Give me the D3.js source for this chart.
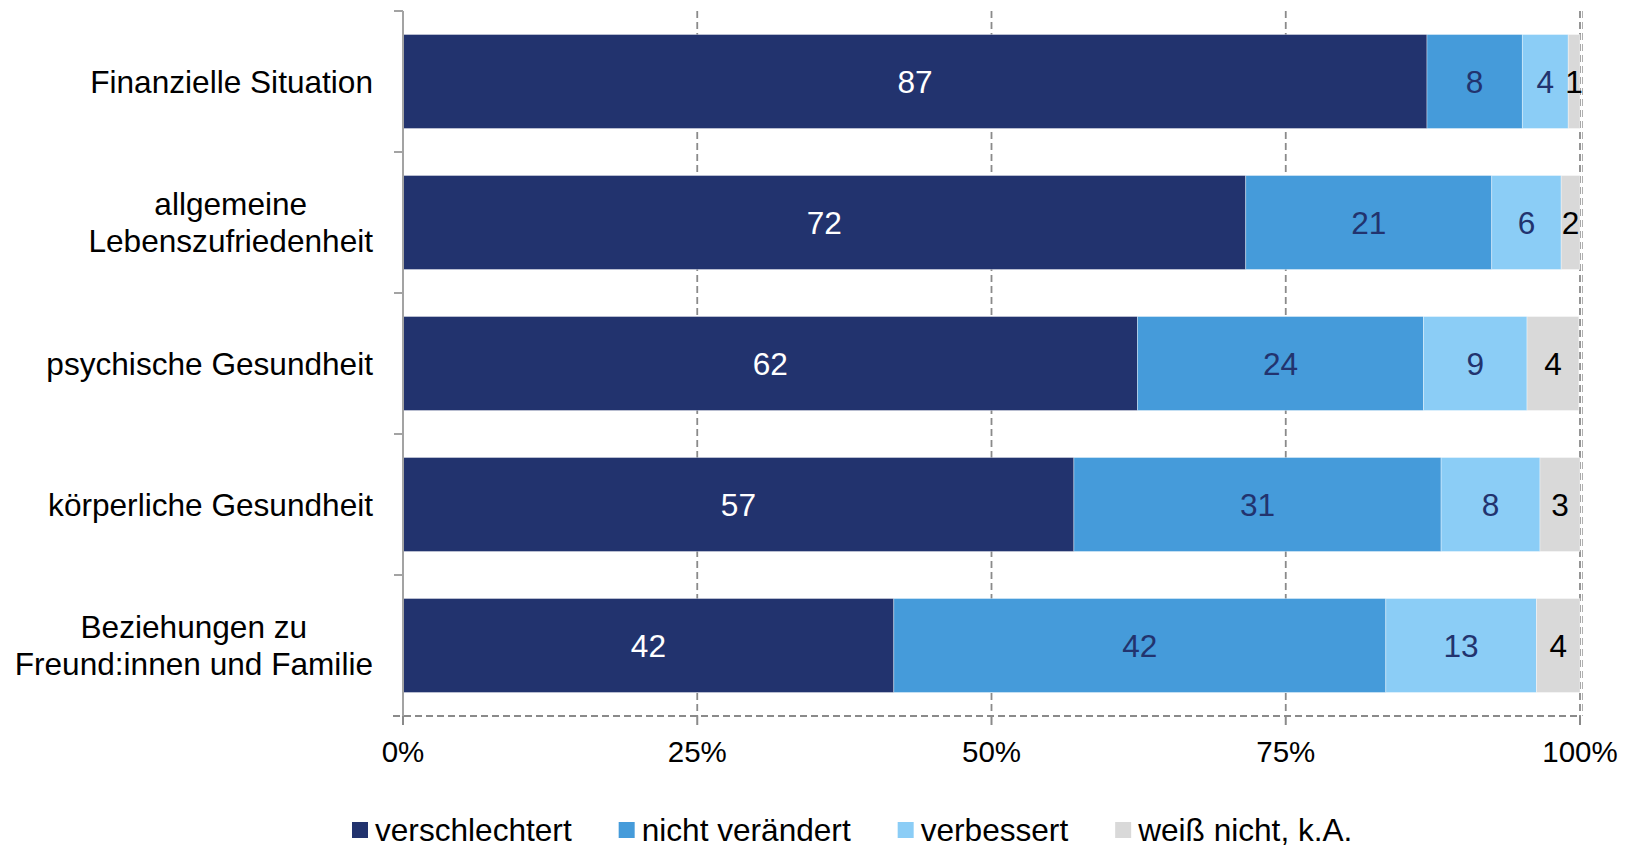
<!DOCTYPE html>
<html>
<head>
<meta charset="utf-8">
<script src="https://cdn.jsdelivr.net/npm/d3@7"></script>
<style>
  html, body { margin: 0; padding: 0; background: #fff; }
  svg { display: block; font-family: "Liberation Sans", Arial, sans-serif; }
</style>
</head>
<body>
<div id="chart"></div>
<script>
// ===== Config =====
const WIDTH = 1632, HEIGHT = 845;
const X0 = 403, X1 = 1580;      // plot left / right
const Y0 = 11, Y1 = 716;        // plot top / bottom
const FONT = 31.6, TICK_FONT = 29.5;

// ===== Data (percent) =====
const categories = [
  "Finanzielle Situation",
  "allgemeine|Lebenszufriedenheit",
  "psychische Gesundheit",
  "körperliche Gesundheit",
  "Beziehungen zu|Freund:innen und Familie"
];
const seriesNames = ["verschlechtert", "nicht verändert", "verbessert", "weiß nicht, k.A."];
const verschlechtert = [87.0, 71.6, 62.4, 57.0, 41.7];
const nichtVeraendert = [8.1, 20.9, 24.3, 31.2, 41.8];
const verbessert = [3.9, 5.9, 8.8, 8.4, 12.8];
const weissNicht = [1.0, 1.6, 4.4, 3.4, 3.7];
const xTicks = [0, 25, 50, 75, 100];

// colours
const fillColor = d3.scaleOrdinal().domain(seriesNames)
  .range(["#22336e", "#459bda", "#8bcdf6", "#d9d9d9"]);
const labelColor = d3.scaleOrdinal().domain(seriesNames)
  .range(["#ffffff", "#22336e", "#22336e", "#000000"]);
const GRID = "#8a8a8a", AXIS = "#a3a3a3";

// table for d3.stack
const table = categories.map((c, i) => ({
  cat: c,
  [seriesNames[0]]: verschlechtert[i],
  [seriesNames[1]]: nichtVeraendert[i],
  [seriesNames[2]]: verbessert[i],
  [seriesNames[3]]: weissNicht[i]
}));
const stacked = d3.stack().keys(seriesNames)(table);

// ===== Scales =====
const x = d3.scaleLinear().domain([0, 100]).range([X0, X1]);
const y = d3.scaleBand().domain(categories).range([Y0, Y1])
  .paddingInner(1/3).paddingOuter(1/6);

const svg = d3.select("#chart").append("svg")
  .attr("width", WIDTH).attr("height", HEIGHT)
  .attr("viewBox", `0 0 ${WIDTH} ${HEIGHT}`);

// ===== Grid (dashed) =====
const grid = svg.append("g").attr("class", "grid");
grid.selectAll("line.v").data(xTicks.slice(1)).join("line")
  .attr("class", "v")
  .attr("x1", d => x(d)).attr("x2", d => x(d))
  .attr("y1", Y0).attr("y2", Y1)
  .attr("stroke", GRID).attr("stroke-width", 1.8).attr("stroke-dasharray", "7,4");
// right frame line next to 100%
grid.append("line")
  .attr("x1", x(100) + 2.5).attr("x2", x(100) + 2.5)
  .attr("y1", Y0).attr("y2", Y1)
  .attr("stroke", "#b0b0b0").attr("stroke-width", 1).attr("stroke-dasharray", "7,4");

// ===== Bars =====
const layers = svg.append("g").attr("class", "bars")
  .selectAll("g.layer").data(stacked).join("g")
  .attr("class", "layer")
  .attr("fill", d => fillColor(d.key));

layers.selectAll("rect").data(d => d).join("rect")
  .attr("x", d => x(d[0]))
  .attr("width", d => x(d[1]) - x(d[0]))
  .attr("y", d => y(d.data.cat))
  .attr("height", y.bandwidth())
  .attr("stroke", "#ffffff").attr("stroke-width", 0.8).attr("stroke-opacity", 0.45);

// value labels
const fmt = d3.format(".0f");
stacked.forEach(layer => {
  svg.append("g").attr("class", "labels")
    .selectAll("text").data(layer).join("text")
    .attr("x", d => (x(d[0]) + x(d[1])) / 2)
    .attr("y", d => y(d.data.cat) + y.bandwidth() / 2)
    .attr("dy", "0.36em")
    .attr("text-anchor", "middle")
    .attr("font-size", FONT)
    .attr("fill", labelColor(layer.key))
    .text(d => fmt(d[1] - d[0]));
});

// ===== X axis (dashed baseline + tick marks) =====
const xAxisG = svg.append("g").attr("class", "x-axis");
xAxisG.append("line")
  .attr("x1", X0 - 10).attr("x2", X1)
  .attr("y1", Y1).attr("y2", Y1)
  .attr("stroke", GRID).attr("stroke-width", 1.8).attr("stroke-dasharray", "7,4");
xAxisG.selectAll("line.tick").data(xTicks).join("line")
  .attr("class", "tick")
  .attr("x1", d => x(d)).attr("x2", d => x(d))
  .attr("y1", Y1).attr("y2", Y1 + 9)
  .attr("stroke", GRID).attr("stroke-width", 2);
xAxisG.selectAll("text").data(xTicks).join("text")
  .attr("x", d => x(d)).attr("y", Y1 + 46)
  .attr("text-anchor", "middle")
  .attr("font-size", TICK_FONT)
  .attr("fill", "#000")
  .text(d => d + "%");

// ===== Y axis (solid, ticks between categories) =====
const yAxisG = svg.append("g").attr("class", "y-axis");
yAxisG.append("line")
  .attr("x1", X0).attr("x2", X0).attr("y1", Y0).attr("y2", Y1)
  .attr("stroke", AXIS).attr("stroke-width", 2);
const yBounds = d3.range(categories.length + 1)
  .map(i => Y0 + i * y.step());
yAxisG.selectAll("line.tick").data(yBounds.slice(0, -1)).join("line")
  .attr("class", "tick")
  .attr("x1", X0 - 9).attr("x2", X0)
  .attr("y1", d => d).attr("y2", d => d)
  .attr("stroke", AXIS).attr("stroke-width", 2);

// category labels: block right-aligned, lines centered within block
const LINE_H = 37;
categories.forEach(c => {
  const lines = c.split("|");
  const g = yAxisG.append("g");
  const cy = y(c) + y.bandwidth() / 2;
  const texts = g.selectAll("text").data(lines).join("text")
    .attr("font-size", FONT).attr("fill", "#000")
    .attr("text-anchor", "middle")
    .attr("y", (d, i) => cy + (i - (lines.length - 1) / 2) * LINE_H)
    .attr("dy", "0.36em")
    .text(d => d);
  const maxW = d3.max(texts.nodes(), n => n.getComputedTextLength());
  texts.attr("x", X0 - 30 - maxW / 2);
});

// ===== Legend =====
const legend = svg.append("g").attr("class", "legend")
  .attr("transform", `translate(352, 822)`);
let lx = 0;
seriesNames.forEach(name => {
  const item = legend.append("g").attr("transform", `translate(${lx},0)`);
  item.append("rect").attr("width", 16).attr("height", 16).attr("fill", fillColor(name));
  const t = item.append("text").attr("x", 23).attr("y", 19)
    .attr("font-size", FONT).attr("fill", "#000").text(name);
  lx += 23 + t.node().getComputedTextLength() + 47;
});
</script>
</body>
</html>
